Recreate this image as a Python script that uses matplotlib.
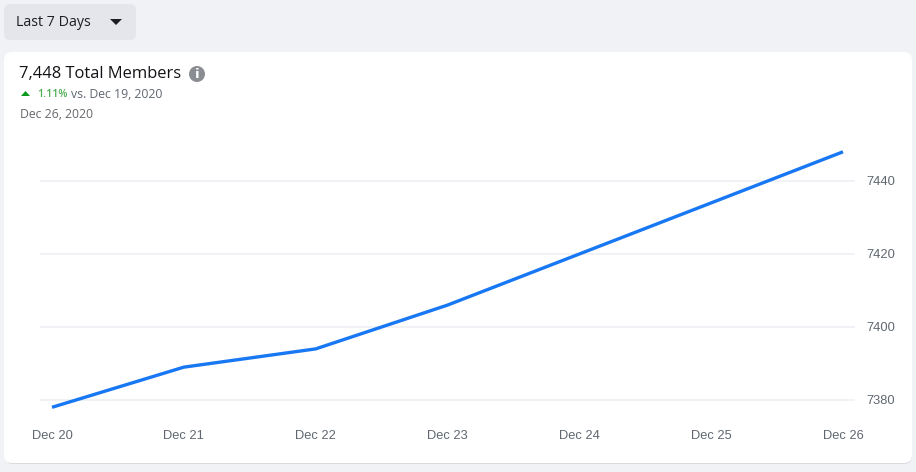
import matplotlib
matplotlib.use("Agg")
import matplotlib.pyplot as plt
from matplotlib.patches import FancyBboxPatch, Polygon, Circle
from matplotlib.transforms import ScaledTranslation

days = ["Dec 20", "Dec 21", "Dec 22", "Dec 23", "Dec 24", "Dec 25", "Dec 26"]
members = [7378, 7389, 7394, 7406, 7420, 7434, 7448]
yticks = [7380, 7400, 7420, 7440]

W, H = 916, 472
fig = plt.figure(figsize=(W / 100, H / 100), dpi=100, facecolor="#f0f2f5")

# background layer in pixel coords, y going down
bg = fig.add_axes([0, 0, 1, 1])
bg.set_xlim(0, W)
bg.set_ylim(H, 0)
bg.axis("off")

# soft shadow then card
bg.add_patch(FancyBboxPatch((5, 54), 907, 410, boxstyle="round,pad=0,rounding_size=8",
                            fc="#d9dbdf", ec="none"))
bg.add_patch(FancyBboxPatch((4, 52), 908, 411, boxstyle="round,pad=0,rounding_size=8",
                            fc="white", ec="none"))
# dropdown button
bg.add_patch(FancyBboxPatch((4, 4), 132, 36, boxstyle="round,pad=0,rounding_size=6",
                            fc="#e4e6eb", ec="none"))
bg.add_patch(Polygon([[110, 19], [122, 19], [116, 25]], fc="#1c1e21", ec="none"))
bg.text(15.5, 22, "Last 7 Days", fontsize=10.3, family="Open Sans", weight="medium",
        color="#1c1e21", va="center")

# header
bg.text(19, 74, "7,448 Total Members", fontsize=11.9, family="Open Sans", weight="medium",
        color="#111316", va="center")
bg.add_patch(Circle((197, 74), 8, fc="#8a8d91", ec="none"))
bg.text(197, 74, "i", fontsize=9.5, family="DejaVu Sans", weight="bold", color="white",
        ha="center", va="center")
bg.add_patch(Polygon([[21, 96], [30, 96], [25.5, 91]], fc="#0a9a1c", ec="none"))
bg.text(37.5, 94.5, "1.11%", fontsize=7.7, family="Open Sans", weight="semibold",
        color="#4caf50", va="center")
bg.text(71, 94.5, "vs. Dec 19, 2020", fontsize=8.8, family="Open Sans", weight="medium",
        color="#606770", va="center")
bg.text(20, 114.5, "Dec 26, 2020", fontsize=8.8, family="Open Sans", color="#65676b", va="center")

# plot area: gridlines span x 40-855, value axis 3.65 px per member
top, bottom = 130, 420
ax = fig.add_axes([40 / W, 1 - bottom / H, 815 / W, (bottom - top) / H])
ax.patch.set_alpha(0)
ax.set_xlim(-12 / 131.83, 6 + 12 / 131.83)
ax.set_ylim(7380 - 20 / 3.65, 7440 + 51 / 3.65)
for s in ax.spines.values():
    s.set_visible(False)
ax.yaxis.tick_right()
ax.set_yticks(yticks)
ax.set_xticks(range(len(days)))
ax.set_xticklabels(days)
ax.tick_params(length=0, labelsize=9.3, labelcolor="#606770")
ax.tick_params(axis="y", pad=8.5)
ax.tick_params(axis="x", pad=7)
up = ScaledTranslation(0, 0.6 / 72, fig.dpi_scale_trans)
for lab in ax.get_xticklabels() + ax.get_yticklabels():
    lab.set_family("Liberation Sans")
for lab in ax.get_yticklabels():
    lab.set_transform(lab.get_transform() + up)
ax.grid(axis="y", color="#eff0f3", lw=1.2)
ax.set_axisbelow(True)
ax.plot(range(len(days)), members, color="#1877f2", lw=2.4, solid_capstyle="butt")

fig.savefig("out.png", dpi=100, facecolor=fig.get_facecolor())
